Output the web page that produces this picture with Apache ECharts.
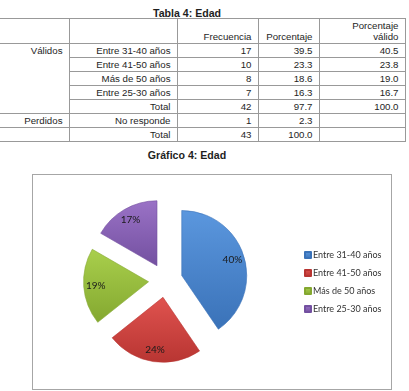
<!DOCTYPE html>
<html>
<head>
<meta charset="utf-8">
<script src="https://cdn.jsdelivr.net/npm/echarts@6/dist/echarts.min.js"></script>
<style>
  body { margin: 0; background: #fff; width: 409px; height: 391px; position: relative; overflow: hidden;
         font-family: 'Liberation Sans', Arial, sans-serif; color: #1e1e1e; }
  .titulo { position: absolute; left: 0; width: 374px; text-align: center; font-weight: bold;
            font-size: 10.6px; line-height: 12px; }
  #tabla { position: absolute; left: 0; top: 18px; width: 405px; border-collapse: collapse;
           table-layout: fixed; font-size: 9.7px; }
  #tabla td { border: 1px solid #999; padding: 0 6px 0 0; height: 13px; line-height: 13px;
              text-align: right; white-space: nowrap; overflow: hidden; }
  #tabla tr.cab td { height: 23px; line-height: 11px; vertical-align: bottom; padding-bottom: 1px; }
  #tabla td.izq { border-left: none; vertical-align: top; }
  #grafico { position: absolute; left: 32px; top: 174px; width: 360px; height: 216px;
             box-sizing: border-box; border: 1px solid #a6a6a6; }
</style>
</head>
<body>
<div class="titulo" style="top:7px">Tabla 4: Edad</div>
<table id="tabla">
  <colgroup><col style="width:69px"><col style="width:108px"><col style="width:81px"><col style="width:61px"><col style="width:86px"></colgroup>
  <tbody id="cuerpo"></tbody>
</table>
<div class="titulo" style="top:149px">Gráfico 4: Edad</div>
<div id="grafico"></div>
<script>
// datos
var categorias = ['Entre 31-40 años', 'Entre 41-50 años', 'Más de 50 años', 'Entre 25-30 años'];
var frecuencia = [17, 10, 8, 7];
var porcentaje = ['39.5', '23.3', '18.6', '16.3'];
var porcentajeValido = ['40.5', '23.8', '19.0', '16.7'];
var totalValidos = ['42', '97.7', '100.0'];
var perdidos = ['No responde', '1', '2.3'];
var totalGeneral = ['43', '100.0'];

// tabla
var filas = '<tr class="cab"><td class="izq"></td><td></td><td>Frecuencia</td><td>Porcentaje</td><td>Porcentaje<br>válido</td></tr>';
categorias.forEach(function (c, i) {
    filas += '<tr>' + (i === 0 ? '<td class="izq" rowspan="5">Válidos</td>' : '') +
        '<td>' + c + '</td><td>' + frecuencia[i] + '</td><td>' + porcentaje[i] + '</td><td>' + porcentajeValido[i] + '</td></tr>';
});
filas += '<tr><td>Total</td><td>' + totalValidos[0] + '</td><td>' + totalValidos[1] + '</td><td>' + totalValidos[2] + '</td></tr>';
filas += '<tr><td class="izq">Perdidos</td><td>' + perdidos[0] + '</td><td>' + perdidos[1] + '</td><td>' + perdidos[2] + '</td><td></td></tr>';
filas += '<tr><td class="izq"></td><td>Total</td><td>' + totalGeneral[0] + '</td><td>' + totalGeneral[1] + '</td><td></td></tr>';
document.getElementById('cuerpo').innerHTML = filas;

// grafico
var myChart = echarts.init(document.getElementById('grafico'));
var claros = ['#5b97de', '#e0534f', '#a9cf4c', '#9a72c6'];
var oscuros = ['#3a72b8', '#b83532', '#84a830', '#7350a0'];

var datos = categorias.map(function (c, i) {
    return {
        name: c,
        value: frecuencia[i],
        selected: true,
        itemStyle: {
            color: new echarts.graphic.LinearGradient(0, 0, 0, 1, [
                { offset: 0, color: claros[i] },
                { offset: 1, color: oscuros[i] }
            ]),
            borderColor: oscuros[i],
            borderWidth: 0.6
        }
    };
});
var etiquetas = categorias.map(function (c, i) {
    return { name: c, value: frecuencia[i], selected: true };
});

var option = {
    animation: false,
    color: ['#4a86cf', '#d0423f', '#97c23c', '#8a5cb5'],
    legend: {
        orient: 'vertical',
        left: 271,
        top: 74,
        padding: 0,
        icon: 'rect',
        itemWidth: 6,
        itemHeight: 6,
        itemGap: 6,
        data: categorias,
        textStyle: { fontFamily: 'Lato', fontSize: 9, color: '#333', lineHeight: 12, padding: [0, 0, 0, -3] }
    },
    series: [{
        type: 'pie',
        center: [132.5, 105.5],
        radius: [0, 65],
        startAngle: 90,
        clockwise: true,
        selectedMode: 'multiple',
        selectedOffset: 17,
        silent: true,
        label: { show: false },
        labelLine: { show: false },
        data: datos
    }, {
        // solo etiquetas
        type: 'pie',
        center: [132.5, 105.5],
        radius: [35, 65],
        startAngle: 90,
        clockwise: true,
        selectedMode: 'multiple',
        selectedOffset: 17,
        silent: true,
        percentPrecision: 0,
        itemStyle: { color: 'rgba(0,0,0,0)' },
        label: {
            show: true,
            position: 'inside',
            formatter: '{d}%',
            fontFamily: 'Lato',
            fontSize: 10,
            color: '#1a1a1a'
        },
        labelLine: { show: false },
        data: etiquetas
    }]
};
myChart.setOption(option);
</script>
</body>
</html>
